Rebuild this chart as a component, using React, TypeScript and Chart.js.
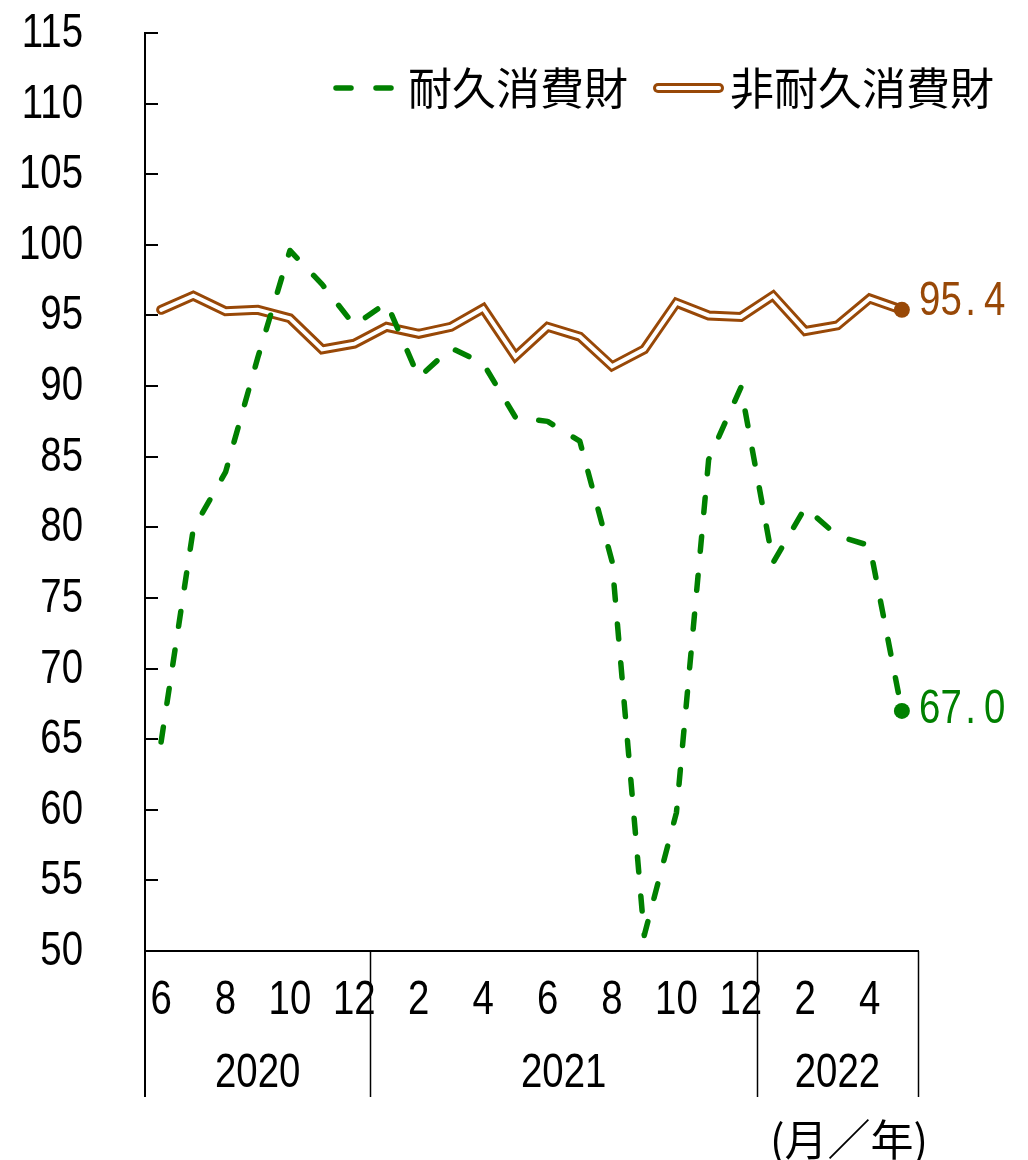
import React, { useEffect, useRef } from 'react';
import { Chart, registerables } from 'chart.js';

Chart.register(...registerables);

// ---- data ----
const monthLabels = ['6', '7', '8', '9', '10', '11', '12', '1', '2', '3', '4', '5', '6', '7', '8', '9', '10', '11', '12', '1', '2', '3', '4', '5'];
const yearLabels = ['2020', '2021', '2022'];
const yearStartIdx = [0, 7, 19];
const yearEndIdx = [6, 18, 23];
const durable = [64.8, 79.9, 83.9, 92.0, 99.6, 97.2, 94.3, 95.9, 90.6, 92.7, 91.6, 87.8, 87.5, 86.1, 77.6, 51.1, 59.8, 84.8, 89.9, 77.5, 81.4, 79.4, 78.7, 67.0];
const nonDurable = [95.4, 96.4, 95.3, 95.4, 94.8, 92.6, 93.0, 94.2, 93.7, 94.2, 95.5, 92.1, 94.2, 93.5, 91.4, 92.6, 95.9, 95.0, 94.9, 96.4, 93.9, 94.3, 96.2, 95.4];
const seriesNames = ['耐久消費財', '非耐久消費財'];
const endLabels = ['67.0', '95.4'];
const unitLabel = '(月／年)';
const yMin = 50;
const yMax = 115;
const yStep = 5;

// ---- styles ----
const GREEN = '#008000';
const BROWN = '#984807';
const NUM_FONT = "'Liberation Sans', Arial, sans-serif";
const NUM_SIZE = 48;
const SX = 0.8; // horizontal condensing of numeric labels
const JP_FONT = "'Noto Sans CJK JP', 'Noto Sans', sans-serif";

function condensedText(ctx: any, txt: string, x: number, y: number, align: 'left' | 'right' | 'center') {
  ctx.save();
  ctx.font = `${NUM_SIZE}px ${NUM_FONT}`;
  ctx.textAlign = align;
  ctx.textBaseline = 'middle';
  ctx.translate(x, y);
  ctx.scale(SX, 1);
  ctx.fillText(txt, 0, 0);
  ctx.restore();
}

const decorPlugin = {
  id: 'decor',
  afterDraw(chart: any) {
    const { ctx, chartArea, scales } = chart;
    const xs = scales.x;
    const ys = scales.y;
    ctx.save();
    // inward y ticks + y tick labels (from the scale's ticks)
    ctx.strokeStyle = '#000';
    ctx.fillStyle = '#000';
    ctx.lineWidth = 2;
    ys.ticks.forEach((t: any) => {
      const py = Math.round(ys.getPixelForValue(t.value));
      ctx.beginPath();
      ctx.moveTo(chartArea.left, py);
      ctx.lineTo(chartArea.left + 13, py);
      ctx.stroke();
      condensedText(ctx, String(t.value), 83, py + 1, 'right');
    });
    // x tick labels (every other month)
    xs.ticks.forEach((_t: any, i: number) => {
      if (i % 2 !== 0) return;
      condensedText(ctx, monthLabels[i], xs.getPixelForTick(i), 1001, 'center');
    });
    // year separators
    const sepBottom = 1097;
    const seps: number[] = [chartArea.left];
    for (let k = 0; k < yearEndIdx.length - 1; k++) {
      seps.push((xs.getPixelForValue(yearEndIdx[k]) + xs.getPixelForValue(yearStartIdx[k + 1])) / 2);
    }
    seps.push(chartArea.right);
    seps.forEach((sx, k) => {
      ctx.lineWidth = k === 0 ? 2 : 1.5;
      const px = k === 0 ? chartArea.left : Math.round(sx) + 0.5;
      ctx.beginPath();
      ctx.moveTo(px, chartArea.bottom);
      ctx.lineTo(px, sepBottom);
      ctx.stroke();
    });
    // year labels
    yearLabels.forEach((lab, k) => {
      condensedText(ctx, lab, (seps[k] + seps[k + 1]) / 2, 1074, 'center');
    });
    // unit label
    ctx.fillStyle = '#000';
    ctx.font = `43px ${JP_FONT}`;
    ctx.textAlign = 'center';
    ctx.textBaseline = 'middle';
    ctx.fillText(unitLabel, 849, 1140);

    // legend
    const ly = 88;
    ctx.lineCap = 'round';
    ctx.strokeStyle = GREEN;
    ctx.lineWidth = 5.5;
    [[336, 351], [376, 391]].forEach(([a, b]) => {
      ctx.beginPath();
      ctx.moveTo(a, ly);
      ctx.lineTo(b, ly);
      ctx.stroke();
    });
    ctx.textAlign = 'left';
    ctx.fillStyle = '#000';
    ctx.font = `44px ${JP_FONT}`;
    ctx.fillText(seriesNames[0], 408, ly);
    ctx.strokeStyle = BROWN;
    ctx.lineWidth = 10;
    ctx.beginPath();
    ctx.moveTo(658, ly);
    ctx.lineTo(719, ly);
    ctx.stroke();
    ctx.strokeStyle = '#fff';
    ctx.lineWidth = 4;
    ctx.beginPath();
    ctx.moveTo(658, ly);
    ctx.lineTo(719, ly);
    ctx.stroke();
    ctx.fillText(seriesNames[1], 730, ly);

    // end labels
    const drawEnd = (txt: string, color: string, value: number, dy: number) => {
      const py = ys.getPixelForValue(value) + dy;
      const startX = xs.getPixelForValue(durable.length - 1) + 17;
      ctx.fillStyle = color;
      for (let i = 0; i < txt.length; i++) {
        const ch = txt[i];
        condensedText(ctx, ch, startX + i * 21.7 + (ch === '.' ? 3 : 0), py, 'left');
      }
    };
    drawEnd(endLabels[0], GREEN, durable[durable.length - 1], -1);
    drawEnd(endLabels[1], BROWN, nonDurable[nonDurable.length - 1], -8);
    ctx.restore();
  },
};

export default function App() {
  const ref = useRef<HTMLCanvasElement | null>(null);
  useEffect(() => {
    if (!ref.current) return;
    const last = durable.length - 1;
    const chart = new Chart(ref.current, {
      type: 'line',
      data: {
        labels: monthLabels,
        datasets: [
          {
            label: seriesNames[0],
            data: durable,
            borderColor: GREEN,
            borderWidth: 5.5,
            borderDash: [15, 24],
            borderCapStyle: 'round',
            borderJoinStyle: 'round',
            pointRadius: (c: any) => (c.dataIndex === last ? 8 : 0),
            pointBackgroundColor: GREEN,
            pointBorderWidth: 0,
            tension: 0,
            fill: false,
          },
          {
            label: seriesNames[1] + ' inner',
            data: nonDurable,
            borderColor: '#ffffff',
            borderWidth: 4,
            borderCapStyle: 'round',
            borderJoinStyle: 'miter',
            pointRadius: (c: any) => (c.dataIndex === last ? 8 : 0),
            pointBackgroundColor: BROWN,
            pointBorderWidth: 0,
            tension: 0,
            fill: false,
          },
          {
            label: seriesNames[1],
            data: nonDurable,
            borderColor: BROWN,
            borderWidth: 10,
            borderCapStyle: 'round',
            borderJoinStyle: 'miter',
            pointRadius: 0,
            tension: 0,
            fill: false,
          },
        ],
      },
      options: {
        responsive: false,
        animation: false,
        events: [],
        layout: { padding: { top: 33, right: 110, left: 0, bottom: 0 } },
        plugins: { legend: { display: false }, tooltip: { enabled: false } },
        scales: {
          x: {
            type: 'category',
            offset: true,
            grid: { display: false, drawTicks: false },
            border: { display: true, color: '#000', width: 2 },
            ticks: { display: false, autoSkip: false, maxRotation: 0 },
            afterFit: (s: any) => {
              s.height = 209;
              s.paddingLeft = 0;
              s.paddingRight = 0;
            },
          },
          y: {
            min: yMin,
            max: yMax,
            grid: { display: false, drawTicks: false },
            border: { display: true, color: '#000', width: 2 },
            ticks: { display: false, stepSize: yStep },
            afterFit: (s: any) => {
              s.width = 145;
              s.paddingTop = 0;
              s.paddingBottom = 0;
            },
          },
        },
      },
      plugins: [decorPlugin],
    } as any);
    return () => chart.destroy();
  }, []);
  return (
    <div style={{ position: 'absolute', left: 0, top: 0, width: 1028, height: 1160, background: '#fff' }}>
      <canvas ref={ref} width={1028} height={1160} style={{ display: 'block' }} />
    </div>
  );
}
